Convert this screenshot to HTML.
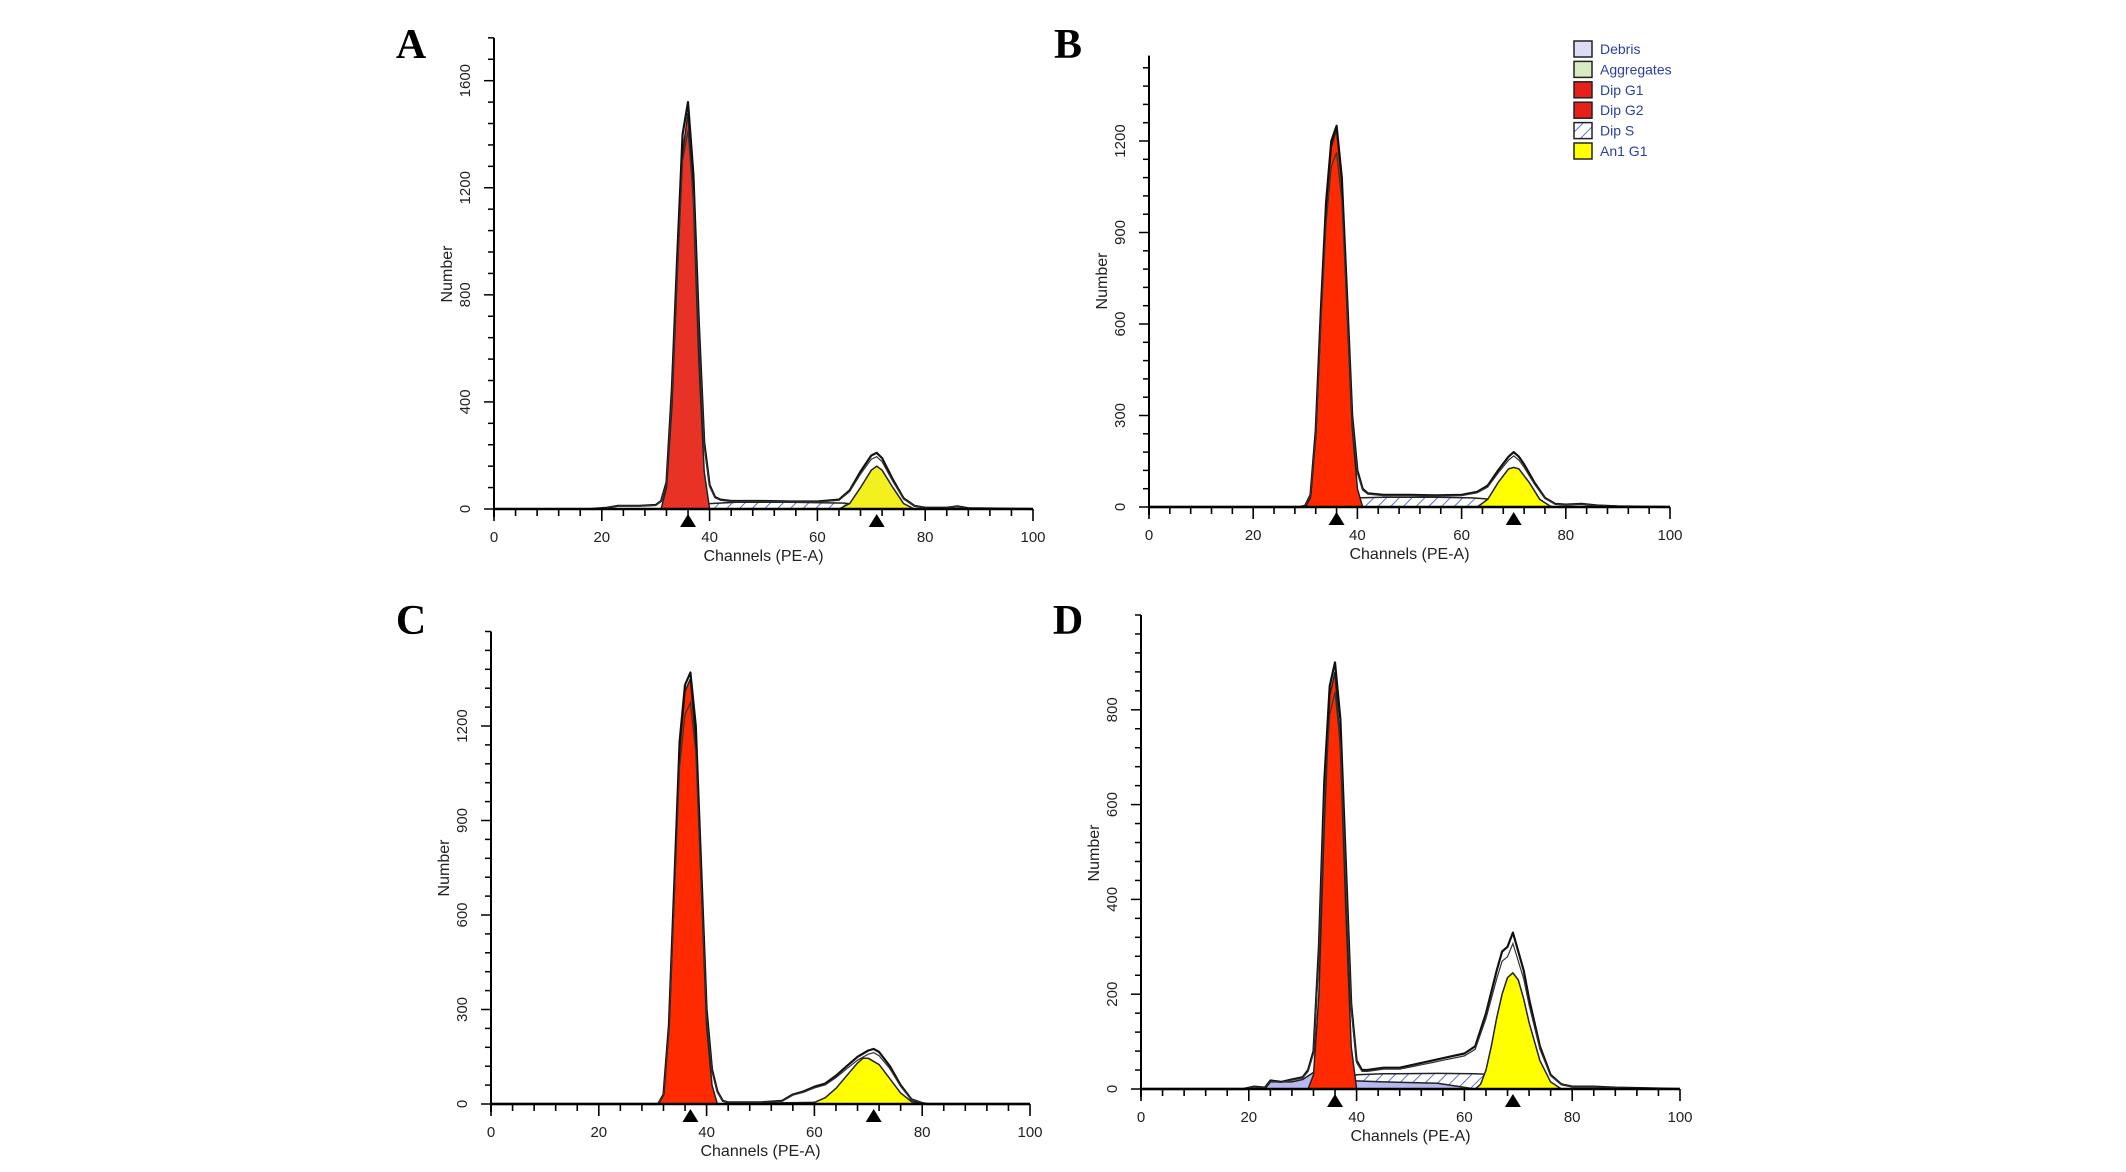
<!DOCTYPE html>
<html><head><meta charset="utf-8"><style>
html,body{margin:0;padding:0;background:#fff;}
svg{display:block;}
text{font-family:"Liberation Sans",sans-serif;}
</style></head><body>
<svg id="fig" width="2126" height="1172" viewBox="0 0 2126 1172">
<defs>
<pattern id="hatch" patternUnits="userSpaceOnUse" width="9" height="9" patternTransform="rotate(45)">
<rect width="9" height="9" fill="#fff"/><line x1="0" y1="0" x2="0" y2="9" stroke="#3050c0" stroke-width="1.6"/>
</pattern>
</defs>
</svg>
<script>
// ---------- Panel A data ----------
const aTotCh=[18,21,23,27,30,31,32,33,34,35,36,37,38,39,40,41,42,44,50,55,60,64,66,68,70,71,72,74,76,78,80,84,86,88,100];
const aTotY=[0,5,12,12,15,30,100,450,950,1400,1520,1250,700,250,90,45,35,30,30,28,28,35,70,140,200,210,190,110,40,12,5,5,10,3,0];
const aG1Ch=[31,32,33,34,35,36,37,38,39,40];
const aG1Y=[0,80,380,880,1330,1480,1150,560,140,0];
const aG2Ch=[64,66,68,70,71,72,74,76,78];
const aG2Y=[0,20,80,145,160,145,80,20,0];
const aSCh=[36,40,45,55,65,70,73];
const aSY=[0,20,25,25,22,10,0];
const aMarks=[36,71];
const aTicks=[0,400,800,1200,1600];
// ---------- Panel B data ----------
const bTotCh=[0,29,30,31,32,33,34,35,36,37,38,39,40,41,42,45,50,55,60,63,65,67,69,70,71,72,74,76,78,80,83,86,90,100];
const bTotY=[0,0,5,40,250,650,1000,1200,1250,1080,700,300,120,60,45,40,40,38,40,50,70,120,165,180,165,140,80,30,10,8,10,5,2,0];
const bG1Ch=[30,31,32,33,34,35,36,37,38,39,40,41];
const bG1Y=[0,30,230,620,980,1180,1240,1060,650,260,60,0];
const bG2Ch=[63,65,67,69,70,71,73,75,77,78];
const bG2Y=[0,25,80,125,130,125,80,25,3,0];
const bSCh=[35,38,40,45,55,62,66,70,75];
const bSY=[0,25,30,32,32,30,25,12,0];
const bMarks=[36,70];
const bTicks=[0,300,600,900,1200];
// ---------- Panel C data ----------
const cTotCh=[0,31,32,33,34,35,36,37,38,39,40,41,42,43,44,50,54,56,58,60,62,64,66,68,70,71,72,74,76,78,80,81,100];
const cTotY=[0,0,30,250,700,1150,1330,1370,1200,750,300,110,40,10,5,5,10,30,40,55,65,90,120,150,170,175,165,120,60,15,3,0,0];
const cG1Ch=[31,32,33,34,35,36,37,38,39,40,41,42];
const cG1Y=[0,30,240,680,1120,1310,1350,1150,700,250,60,0];
const cG2Ch=[58,60,62,64,66,68,69,70,72,74,76,78,80];
const cG2Y=[0,5,20,50,90,130,145,145,125,80,35,8,0];
const cSCh=[40,50,60,70,76];
const cSY=[0,3,5,4,0];
const cMarks=[37,71];
const cTicks=[0,300,600,900,1200];
// ---------- Panel D data ----------
const dTotCh=[0,19,21,23,24,26,28,30,31,32,33,34,35,36,37,38,39,40,41,42,45,48,50,52,54,56,58,60,62,64,66,67,68,69,70,71,72,74,76,78,80,84,88,100];
const dTotY=[0,0,5,3,18,15,20,25,40,80,300,650,850,900,780,480,180,60,40,40,45,45,50,55,60,65,70,75,90,160,250,290,300,330,290,250,190,90,30,10,5,5,3,0];
const dG1Ch=[31,32,33,34,35,36,37,38,39,40];
const dG1Y=[0,30,200,560,830,880,720,380,90,0];
const dG2Ch=[62,63,64,65,66,67,68,69,70,71,72,74,76,78];
const dG2Y=[0,10,40,90,150,200,235,245,230,190,140,60,15,0];
const dSCh=[36,38,40,45,55,62,66,70,75];
const dSY=[0,20,30,32,33,32,30,18,0];
const dDebCh=[23,24,28,30,32,34,35,36,38,45,55,62];
const dDebY=[0,15,15,20,35,60,55,30,18,15,12,0];
const dPinkCh=[31,32,33,34,35,36,37];
const dPinkY=[0,15,45,60,50,20,0];
const dMarks=[36,69];
const dTicks=[0,200,400,600,800];
const xTicks=[0,20,40,60,80,100];
const legendLabels=["Debris","Aggregates","Dip G1","Dip G2","Dip S","An1 G1"];

const NS="http://www.w3.org/2000/svg";
const svg=document.getElementById('fig');
function mk(tag,attrs,parent){const e=document.createElementNS(NS,tag);for(const k in attrs)e.setAttribute(k,attrs[k]);(parent||svg).appendChild(e);return e;}

const panels=[
 {id:'a',letter:'A',lx:411,ly:58,x0:494,x1:1033,base:509,k:0.2677,yMax:1760,minor:80,ticks:aTicks,numY:274,red:'#e83226',yellow:'#f4f020',
  tot:[aTotCh,aTotY],g1:[aG1Ch,aG1Y],g2:[aG2Ch,aG2Y],s:[aSCh,aSY],marks:aMarks},
 {id:'b',letter:'B',lx:1068,ly:58,x0:1149,x1:1670,base:507,k:0.305,yMax:1480,minor:60,ticks:bTicks,numY:281,red:'#ff2a00',yellow:'#ffff00',
  tot:[bTotCh,bTotY],g1:[bG1Ch,bG1Y],g2:[bG2Ch,bG2Y],s:[bSCh,bSY],marks:bMarks},
 {id:'c',letter:'C',lx:411,ly:634,x0:491,x1:1030,base:1104,k:0.315,yMax:1500,minor:60,ticks:cTicks,numY:868,red:'#ff2a00',yellow:'#ffff00',
  tot:[cTotCh,cTotY],g1:[cG1Ch,cG1Y],g2:[cG2Ch,cG2Y],s:[cSCh,cSY],marks:cMarks},
 {id:'d',letter:'D',lx:1068,ly:634,x0:1141,x1:1680,base:1089,k:0.474,yMax:1000,minor:40,ticks:dTicks,numY:853,red:'#ff2a00',yellow:'#ffff00',
  tot:[dTotCh,dTotY],g1:[dG1Ch,dG1Y],g2:[dG2Ch,dG2Y],s:[dSCh,dSY],marks:dMarks,deb:[dDebCh,dDebY],pink:[dPinkCh,dPinkY]}
];

panels.forEach(p=>{
 const g=mk('g',{});
 
 
 const X=c=>p.x0+(p.x1-p.x0)*c/100;
 const Y=v=>p.base-v*p.k;
 const pts=(ch,ys)=>ch.map((c,i)=>X(c).toFixed(1)+','+Y(ys[i]).toFixed(1)).join(' ');
 const area=(arr,fill,name,op)=>{
   const ch=arr[0],ys=arr[1];
   const d='M'+X(ch[0])+','+p.base+' L'+pts(ch,ys)+' L'+X(ch[ch.length-1])+','+p.base+' Z';
   const e=mk('path',{d:d,fill:fill,stroke:'#222','stroke-width':1.5,opacity:op||1},g);
   
   
 };
 const L=mk('text',{x:p.lx,y:p.ly,'text-anchor':'middle',style:'font-family:"Liberation Serif",serif;font-weight:bold;font-size:42px',fill:'#000'},g);
 L.textContent=p.letter;
 
 
 area(p.s,'url(#hatch)','dip-s-area');
 if(p.deb) area(p.deb,'#b8b8f0','debris-area');
 if(p.pink) area(p.pink,'#e05060','debris-peak',0.85);
 area(p.g1,p.red,'dip-g1-area');
 area(p.g2,p.yellow,'an1-g1-area');
 const t1=mk('polyline',{points:pts(p.tot[0],p.tot[1]),fill:'none',stroke:'#111','stroke-width':2.2,'stroke-linejoin':'round'},g);
 
 
 const t2=mk('polyline',{points:pts(p.tot[0],p.tot[1].map(v=>v*0.93)),fill:'none',stroke:'#333','stroke-width':1.2},g);
 
 
 const ax=mk('line',{x1:p.x0,y1:p.base,x2:p.x1,y2:p.base,stroke:'#000','stroke-width':2.5},g);
 
 
 const ay=mk('line',{x1:p.x0,y1:p.base+8,x2:p.x0,y2:Y(p.yMax),stroke:'#000','stroke-width':2},g);
 
 
 for(let c=0;c<=100;c+=4){
   const major=c%20===0;
   mk('line',{x1:X(c),y1:p.base,x2:X(c),y2:p.base+(major?12:7),stroke:'#000','stroke-width':1.6},g);
 }
 xTicks.forEach(c=>{
   const t=mk('text',{x:X(c),y:p.base+33,'text-anchor':'middle','font-size':15,fill:'#222'},g);
   t.textContent=c;
   
   
 });
 for(let v=0;v<=p.yMax;v+=p.minor){
   const major=p.ticks.indexOf(v)>=0;
   mk('line',{x1:p.x0,y1:Y(v),x2:p.x0-(major?10:6),y2:Y(v),stroke:'#000','stroke-width':1.5},g);
 }
 p.ticks.forEach(v=>{
   const yy=Y(v), xx=p.x0-24;
   const t=mk('text',{x:xx,y:yy,'text-anchor':'middle','font-size':15,fill:'#222',transform:'rotate(-90 '+xx+' '+yy+')'},g);
   t.textContent=v;
   
   
 });
 const xt=mk('text',{x:X(50),y:p.base+52,'text-anchor':'middle','font-size':16,fill:'#222'},g);
 xt.textContent='Channels (PE-A)';
 
 
 const nx=p.x0-42;
 const yt=mk('text',{x:nx,y:p.numY,'text-anchor':'middle','font-size':16,fill:'#222',transform:'rotate(-90 '+nx+' '+p.numY+')'},g);
 yt.textContent='Number';
 
 
 p.marks.forEach(c=>{
   const x=X(c);
   const tr=mk('polygon',{points:(x-8)+','+(p.base+18)+' '+(x+8)+','+(p.base+18)+' '+x+','+(p.base+5),fill:'#000'},g);
   
   
 });
});

const lg=mk('g',{});


const lfills=['#dcdcf4','#d8ecc4','#e8201c','#e8201c','url(#hatch)','#ffff00'];
legendLabels.forEach((s,i)=>{
  const y=41+i*20.4;
  const r=mk('rect',{x:1574,y:y,width:18,height:16,fill:lfills[i],stroke:'#222','stroke-width':1.5},lg);
  
  
  const t=mk('text',{x:1600,y:y+13,'font-size':14,fill:'#2a3f9f'},lg);
  t.textContent=s;
  
  
});
</script>
</body></html>
